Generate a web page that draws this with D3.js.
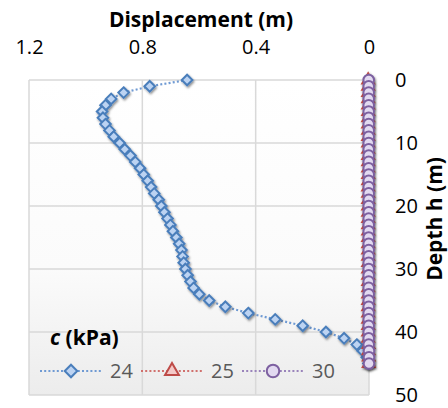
<!DOCTYPE html>
<html>
<head>
<meta charset="utf-8">
<script src="https://cdn.jsdelivr.net/npm/d3@7"></script>
<style>
  body { margin: 0; background: #fff; }
  svg { font-family: "Open Sans", sans-serif; }
</style>
</head>
<body>
<div id="chart"></div>
<script>
// depth (m) of each node
var depth = [0, 1, 2, 3, 4, 5, 6, 7, 8, 9, 10, 11, 12, 13, 14, 15, 16, 17, 18, 19, 20, 21, 22,
             23, 24, 25, 26, 27, 28, 29, 30, 31, 32, 33, 34, 35, 36, 37, 38, 39, 40, 41, 42, 43, 44, 45];

// displacement (m) for c = 24 kPa
var disp24 = [0.642, 0.774, 0.866, 0.910, 0.930, 0.942, 0.939, 0.930, 0.916, 0.901, 0.880, 0.862,
              0.842, 0.825, 0.808, 0.795, 0.781, 0.769, 0.758, 0.742, 0.733, 0.722, 0.711, 0.701,
              0.692, 0.680, 0.670, 0.662, 0.658, 0.654, 0.648, 0.640, 0.630, 0.619, 0.599, 0.564,
              0.507, 0.426, 0.331, 0.234, 0.152, 0.088, 0.043, 0.022, 0.008, 0.002];

// c = 25 kPa
var disp25 = [0.003, 0.003, 0.003, 0.003, 0.003, 0.003, 0.003, 0.003, 0.003, 0.003, 0.003, 0.003,
              0.003, 0.003, 0.003, 0.003, 0.003, 0.003, 0.003, 0.003, 0.003, 0.003, 0.003, 0.003,
              0.003, 0.003, 0.003, 0.003, 0.003, 0.003, 0.003, 0.003, 0.003, 0.003, 0.003, 0.003,
              0.003, 0.003, 0.003, 0.003, 0.003, 0.003, 0.002, 0.002, 0.001, 0.001];

// c = 30 kPa
var disp30 = [0.001, 0.001, 0.001, 0.001, 0.001, 0.001, 0.001, 0.001, 0.001, 0.001, 0.001, 0.001,
              0.001, 0.001, 0.001, 0.001, 0.001, 0.001, 0.001, 0.001, 0.001, 0.001, 0.001, 0.001,
              0.001, 0.001, 0.001, 0.001, 0.001, 0.001, 0.001, 0.001, 0.001, 0.001, 0.001, 0.001,
              0.001, 0.001, 0.001, 0.001, 0.001, 0.001, 0.001, 0.000, 0.000, 0.000];

var seriesNames = ["24", "25", "30"];
var xTicks = [1.2, 0.8, 0.4, 0];
var yTicks = [0, 10, 20, 30, 40, 50];

var width = 448;
var height = 408;

var svg = d3.select("#chart")
            .append("svg")
            .attr("width", width)
            .attr("height", height);

var defs = svg.append("defs");

var grad = defs.append("linearGradient")
               .attr("id", "bg")
               .attr("x1", 0).attr("y1", 0)
               .attr("x2", 0).attr("y2", 1);
grad.append("stop").attr("offset", "0%").attr("stop-color", "#ffffff");
grad.append("stop").attr("offset", "60%").attr("stop-color", "#fbfbfb");
grad.append("stop").attr("offset", "100%").attr("stop-color", "#ececec");

defs.append("filter")
    .attr("id", "shadow")
    .attr("x", "-50%").attr("y", "-50%")
    .attr("width", "200%").attr("height", "200%")
    .append("feDropShadow")
    .attr("dx", 1).attr("dy", 1.5)
    .attr("stdDeviation", 1.2)
    .attr("flood-color", "#000")
    .attr("flood-opacity", 0.45);

var x = d3.scaleLinear().domain([1.2, 0]).range([29, 369]);
var y = d3.scaleLinear().domain([0, 50]).range([80, 395]);

// plot area background
svg.append("rect")
   .attr("x", x(1.2))
   .attr("y", y(0))
   .attr("width", x(0) - x(1.2))
   .attr("height", y(50) - y(0))
   .attr("fill", "url(#bg)");

// grid lines
var grid = svg.append("g")
              .attr("stroke", "#d9d9d9")
              .attr("stroke-width", 1.5);

grid.selectAll(".vg")
    .data(xTicks)
    .enter()
    .append("line")
    .attr("x1", function(d) { return x(d); })
    .attr("x2", function(d) { return x(d); })
    .attr("y1", y(0))
    .attr("y2", y(50));

grid.selectAll(".hg")
    .data(yTicks)
    .enter()
    .append("line")
    .attr("x1", x(1.2))
    .attr("x2", x(0))
    .attr("y1", function(d) { return y(d); })
    .attr("y2", function(d) { return y(d); });

// axes
var xAxis = svg.append("g")
               .attr("transform", "translate(0," + 54 + ")")
               .call(d3.axisTop(x).tickValues(xTicks).tickSize(0).tickPadding(0)
                       .tickFormat(function(d) { return d === 0 ? "0" : d3.format(".1f")(d); }));
xAxis.select(".domain").remove();
xAxis.selectAll("text")
     .attr("font-family", "Open Sans, sans-serif")
     .attr("font-size", 20)
     .attr("fill", "#000")
     .attr("dy", 0);

var yAxis = svg.append("g")
               .attr("transform", "translate(" + x(0) + ",0)")
               .call(d3.axisRight(y).tickValues(yTicks).tickSize(0).tickPadding(26));
yAxis.select(".domain").remove();
yAxis.selectAll("text")
     .attr("font-family", "Open Sans, sans-serif")
     .attr("font-size", 20)
     .attr("fill", "#000");

// axis titles
svg.append("text")
   .attr("x", 201)
   .attr("y", 27)
   .attr("text-anchor", "middle")
   .attr("font-size", 21)
   .attr("font-weight", "bold")
   .text("Displacement (m)");

svg.append("text")
   .attr("transform", "translate(442,219) rotate(-90)")
   .attr("text-anchor", "middle")
   .attr("font-size", 21)
   .attr("font-weight", "bold")
   .text("Depth h (m)");

// series
var diamond = {
    draw: function(context, size) {
        var r = Math.sqrt(size / 2);
        context.moveTo(0, -r);
        context.lineTo(r, 0);
        context.lineTo(0, r);
        context.lineTo(-r, 0);
        context.closePath();
    }
};

var series = [
    { name: seriesNames[0], values: disp24, stroke: "#4a7ebb", fill: "#bcd3f2", line: "#6f9ad3", shape: diamond, size: 56 },
    { name: seriesNames[1], values: disp25, stroke: "#be4b48", fill: "#f4c9c8", line: "#d0706d", shape: d3.symbolTriangle, size: 60 },
    { name: seriesNames[2], values: disp30, stroke: "#7d60a0", fill: "#e2d9f0", line: "#9a84bb", shape: d3.symbolCircle, size: 88 }
];

var line = d3.line()
             .x(function(d) { return x(d[0]); })
             .y(function(d) { return y(d[1]); });

series.forEach(function(s) {
    var pts = s.values.map(function(v, i) { return [v, depth[i]]; });
    var g = svg.append("g");

    g.append("path")
     .datum(pts)
     .attr("d", line)
     .attr("fill", "none")
     .attr("stroke", s.line)
     .attr("stroke-width", 2.2)
     .attr("stroke-dasharray", "2,2.2");

    g.append("g")
     .attr("filter", "url(#shadow)")
     .selectAll("path")
     .data(pts)
     .enter()
     .append("path")
     .attr("transform", function(d) { return "translate(" + x(d[0]) + "," + y(d[1]) + ")"; })
     .attr("d", d3.symbol().type(s.shape).size(s.size))
     .attr("fill", s.fill)
     .attr("stroke", s.stroke)
     .attr("stroke-width", 2);
});

// legend
var legTitle = svg.append("text")
                  .attr("x", 50)
                  .attr("y", 345)
                  .attr("font-size", 21)
                  .attr("font-weight", "bold");
legTitle.append("tspan").attr("font-style", "italic").text("c");
legTitle.append("tspan").text(" (kPa)");

var legX = [40, 141, 242];
var leg = svg.selectAll(".leg")
             .data(series)
             .enter()
             .append("g")
             .attr("transform", function(d, i) { return "translate(" + legX[i] + ",371)"; });

leg.append("line")
   .attr("x1", 0).attr("x2", 62)
   .attr("stroke", function(d) { return d.line; })
   .attr("stroke-width", 2.2)
   .attr("stroke-dasharray", "2,2.2");

leg.append("path")
   .attr("transform", "translate(31,0)")
   .attr("d", function(d) { return d3.symbol().type(d.shape).size(d.size * 1.4)(); })
   .attr("fill", function(d) { return d.fill; })
   .attr("stroke", function(d) { return d.stroke; })
   .attr("stroke-width", 2);

leg.append("text")
   .attr("x", 70)
   .attr("y", 7)
   .attr("font-size", 20)
   .attr("fill", "#595959")
   .text(function(d) { return d.name; });
</script>
</body>
</html>
